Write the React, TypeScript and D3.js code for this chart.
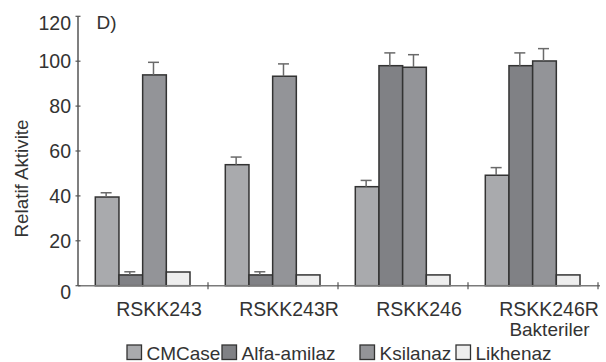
import React from 'react';
import * as d3 from 'd3';

const categories = ['RSKK243', 'RSKK243R', 'RSKK246', 'RSKK246R'];
const seriesNames = ['CMCase', 'Alfa-amilaz', 'Ksilanaz', 'Likhenaz'];
const cmcase = [39.5, 53.9, 44.1, 49.2];
const cmcaseErr = [1.9, 3.4, 2.8, 3.4];
const alfaAmilaz = [4.8, 4.8, 98.0, 98.0];
const alfaAmilazErr = [1.4, 1.4, 5.7, 5.7];
const ksilanaz = [93.9, 93.3, 97.3, 100.1];
const ksilanazErr = [5.6, 5.5, 5.6, 5.5];
const likhenaz = [6.1, 4.8, 4.8, 4.8];
const likhenazErr = [0, 0, 0, 0];
const yTicks = [0, 20, 40, 60, 80, 100, 120];

const seriesValues = [cmcase, alfaAmilaz, ksilanaz, likhenaz];
const seriesErrors = [cmcaseErr, alfaAmilazErr, ksilanazErr, likhenazErr];
const fills = ['#a9aaad', '#808185', '#939498', '#eeeeee'];

const W = 606;
const H = 362;
const FONT = '"Liberation Sans", Arial, Helvetica, sans-serif';
const NARROW = '"Liberation Sans Narrow", "Liberation Sans", Arial, sans-serif';

// legend positions
const legendX = [127, 222, 360, 456];

export default function App() {
  const y = d3.scaleLinear().domain([0, 120]).range([285.7, 16.3]);
  const x0 = d3.scaleBand().domain(categories).range([78, 598]).padding(0);
  const x1 = d3.scaleBand().domain(seriesNames).range([17.3, 112]).padding(0);

  const rows = categories.flatMap((c, ci) =>
    seriesNames.map((s, si) => ({
      cat: c,
      series: s,
      si,
      value: seriesValues[si][ci],
      err: seriesErrors[si][ci],
    }))
  );

  const baseY = y(0);

  return (
    <div style={{ position: 'fixed', left: 0, top: 0, width: W, height: H, background: '#fff' }}>
      <svg width={W} height={H} style={{ display: 'block' }} fontFamily={FONT}>
        {/* bars */}
        {rows.map((r, i) => {
          const bx = (x0(r.cat) || 0) + (x1(r.series) || 0);
          const bw = x1.bandwidth();
          return (
            <rect
              key={'b' + i}
              x={bx}
              y={y(r.value)}
              width={bw}
              height={baseY - y(r.value)}
              fill={fills[r.si]}
              stroke="#333"
              strokeWidth={1.5}
            />
          );
        })}
        {/* error bars */}
        {rows
          .filter(r => r.err > 0)
          .map((r, i) => {
            const cx = (x0(r.cat) || 0) + (x1(r.series) || 0) + x1.bandwidth() / 2 - 1;
            return (
              <g key={'e' + i} stroke="#6a6a6a" strokeWidth={1.5}>
                <line x1={cx} x2={cx} y1={y(r.value)} y2={y(r.value + r.err)} />
                <line x1={cx - 5.5} x2={cx + 5.5} y1={y(r.value + r.err)} y2={y(r.value + r.err)} />
              </g>
            );
          })}

        {/* x axis */}
        <line x1={78} x2={600} y1={baseY} y2={baseY} stroke="#7a7a7a" strokeWidth={1.6} />
        {categories.map(c => {
          const tx = (x0(c) || 0) + x0.bandwidth();
          return <line key={'xt' + c} x1={tx} x2={tx} y1={baseY - 3.5} y2={baseY + 3.5} stroke="#555" strokeWidth={1.2} />;
        })}
        {categories.map(c => (
          <text
            key={'xl' + c}
            x={(x0(c) || 0) + x0.bandwidth() / 2 + 16}
            y={316}
            textAnchor="middle"
            fontSize={19.5}
            fill="#333"
          >
            {c}
          </text>
        ))}
        <text x={549.5} y={336} textAnchor="middle" fontSize={19} fill="#333" fontFamily={NARROW}>
          Bakteriler
        </text>

        {/* y axis */}
        <line x1={78} x2={78} y1={y(120)} y2={baseY} stroke="#555" strokeWidth={1.5} />
        {yTicks.map(t => (
          <g key={'yt' + t}>
            <line x1={75.5} x2={80.5} y1={y(t)} y2={y(t)} stroke="#555" strokeWidth={1.2} />
            <text
              x={71}
              y={y(t) + (t === 0 || t === 120 ? 6.5 : 0)}
              dy="0.35em"
              textAnchor="end"
              fontSize={19.5}
              fill="#333"
            >
              {t}
            </text>
          </g>
        ))}
        <text
          transform="translate(28,178.5) rotate(-90)"
          textAnchor="middle"
          fontSize={18.8}
          fill="#333"
        >
          Relatif Aktivite
        </text>
        <text x={96.5} y={29} fontSize={19} fill="#333">
          D)
        </text>

        {/* legend */}
        {seriesNames.map((s, i) => (
          <g key={'lg' + s}>
            <rect x={legendX[i]} y={345} width={14.5} height={14.5} fill={fills[i]} stroke="#333" strokeWidth={1.3} />
            <text x={legendX[i] + 19.5} y={359.5} fontSize={19} fill="#333" fontFamily={NARROW}>
              {s}
            </text>
          </g>
        ))}
      </svg>
    </div>
  );
}
